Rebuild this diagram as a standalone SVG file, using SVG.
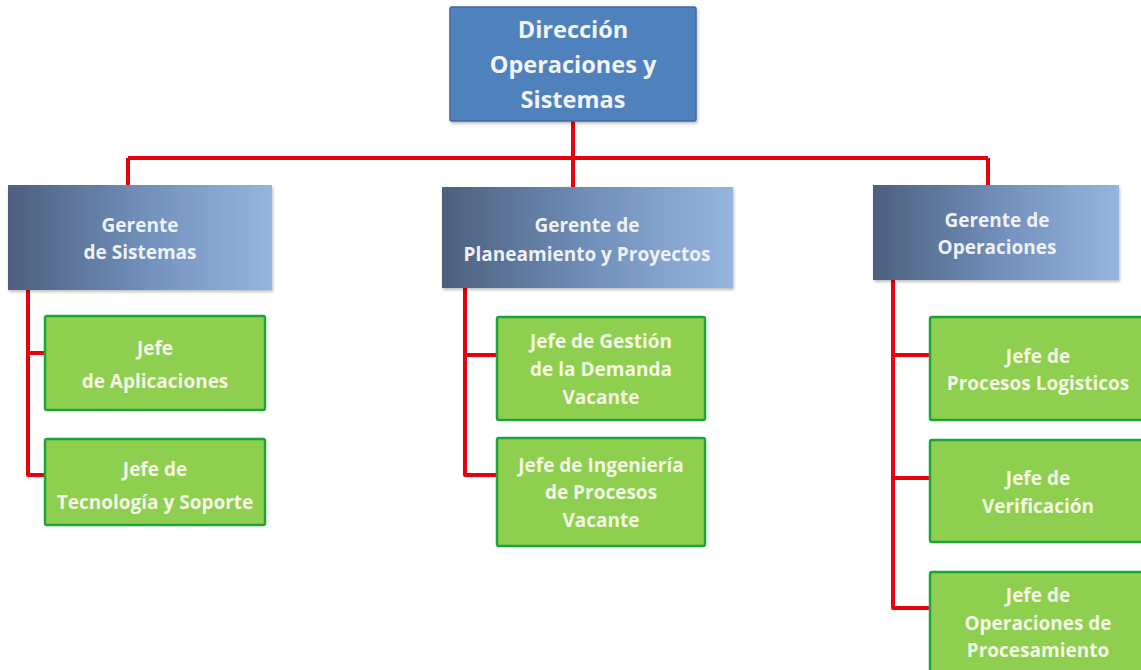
<svg xmlns="http://www.w3.org/2000/svg" width="1141" height="670" viewBox="0 0 1141 670">
<defs>
<linearGradient id="gm" x1="0" y1="0" x2="1" y2="0">
<stop offset="0" stop-color="#4d5f7d"/>
<stop offset="0.5" stop-color="#6f8eb9"/>
<stop offset="1" stop-color="#96b5de"/>
</linearGradient>
<filter id="sh" x="-5%" y="-5%" width="115%" height="120%">
<feDropShadow dx="1" dy="2" stdDeviation="1.5" flood-color="#000" flood-opacity="0.25"/>
</filter>
</defs>
<style>
text{font-family:"Open Sans","Liberation Sans",sans-serif;font-weight:bold;text-anchor:middle}
.top{fill:#4f81bd;stroke:#3f6a9e;stroke-width:1.5}
.top-t{fill:#f2f4f8;font-size:23.5px}
.ger{fill:url(#gm)}
.ger-t{fill:#eef2f8;font-size:19px}
.jefe{fill:#8fcf50;stroke:#1ea33c;stroke-width:2.5}
.jefe-t{fill:#f3f7e4;font-size:19px}
.con{fill:none;stroke:#e8000b;stroke-width:4;stroke-linejoin:round}
</style>
<rect width="1141" height="670" fill="#ffffff"/>
<g id="connectors">
<path class="con" d="M573 121V185M128 158H988M128 158V185M573 158V187M988 158V185"/>
<path class="con" d="M28 290V475H45M28 353H45"/>
<path class="con" d="M465 288V475H497M465 355H497"/>
<path class="con" d="M893 280V608H930M893 355H930M893 478H930"/>
</g>
<g id="n-direccion">
<rect class="top" x="450" y="7" width="246" height="114" rx="2" filter="url(#sh)"/>
<text class="top-t" x="573" y="38">Dirección</text>
<text class="top-t" x="573" y="73">Operaciones y</text>
<text class="top-t" x="573" y="108">Sistemas</text>
</g>
<g id="n-ger-sistemas">
<rect class="ger" x="8" y="185" width="264" height="105" filter="url(#sh)"/>
<text class="ger-t" x="140" y="232">Gerente</text>
<text class="ger-t" x="140" y="259">de Sistemas</text>
</g>
<g id="n-ger-planeamiento">
<rect class="ger" x="442" y="187" width="291" height="101" filter="url(#sh)"/>
<text class="ger-t" x="587" y="232">Gerente de</text>
<text class="ger-t" x="587" y="261">Planeamiento y Proyectos</text>
</g>
<g id="n-ger-operaciones">
<rect class="ger" x="873" y="185" width="246" height="95" filter="url(#sh)"/>
<text class="ger-t" x="997" y="227">Gerente de</text>
<text class="ger-t" x="997" y="254">Operaciones</text>
</g>
<g id="n-jefe-aplicaciones">
<rect class="jefe" x="45" y="316" width="220" height="94" rx="2"/>
<text class="jefe-t" x="155" y="355">Jefe</text>
<text class="jefe-t" x="155" y="388">de Aplicaciones</text>
</g>
<g id="n-jefe-tecnologia">
<rect class="jefe" x="45" y="439" width="220" height="86" rx="2"/>
<text class="jefe-t" x="155" y="476">Jefe de</text>
<text class="jefe-t" x="155" y="509">Tecnología y Soporte</text>
</g>
<g id="n-jefe-gestion">
<rect class="jefe" x="497" y="317" width="208" height="103" rx="2"/>
<text class="jefe-t" x="601" y="348">Jefe de Gestión</text>
<text class="jefe-t" x="601" y="376">de la Demanda</text>
<text class="jefe-t" x="601" y="404">Vacante</text>
</g>
<g id="n-jefe-ingenieria">
<rect class="jefe" x="497" y="438" width="208" height="108" rx="2"/>
<text class="jefe-t" x="601" y="472">Jefe de Ingeniería</text>
<text class="jefe-t" x="601" y="499">de Procesos</text>
<text class="jefe-t" x="601" y="527">Vacante</text>
</g>
<g id="n-jefe-logisticos">
<rect class="jefe" x="930" y="317" width="215" height="103" rx="2"/>
<text class="jefe-t" x="1038" y="363">Jefe de</text>
<text class="jefe-t" x="1038" y="390">Procesos Logisticos</text>
</g>
<g id="n-jefe-verificacion">
<rect class="jefe" x="930" y="440" width="215" height="102" rx="2"/>
<text class="jefe-t" x="1038" y="485">Jefe de</text>
<text class="jefe-t" x="1038" y="513">Verificación</text>
</g>
<g id="n-jefe-procesamiento">
<rect class="jefe" x="930" y="572" width="215" height="110" rx="2"/>
<text class="jefe-t" x="1038" y="602">Jefe de</text>
<text class="jefe-t" x="1038" y="630">Operaciones de</text>
<text class="jefe-t" x="1038" y="657">Procesamiento</text>
</g>
</svg>
